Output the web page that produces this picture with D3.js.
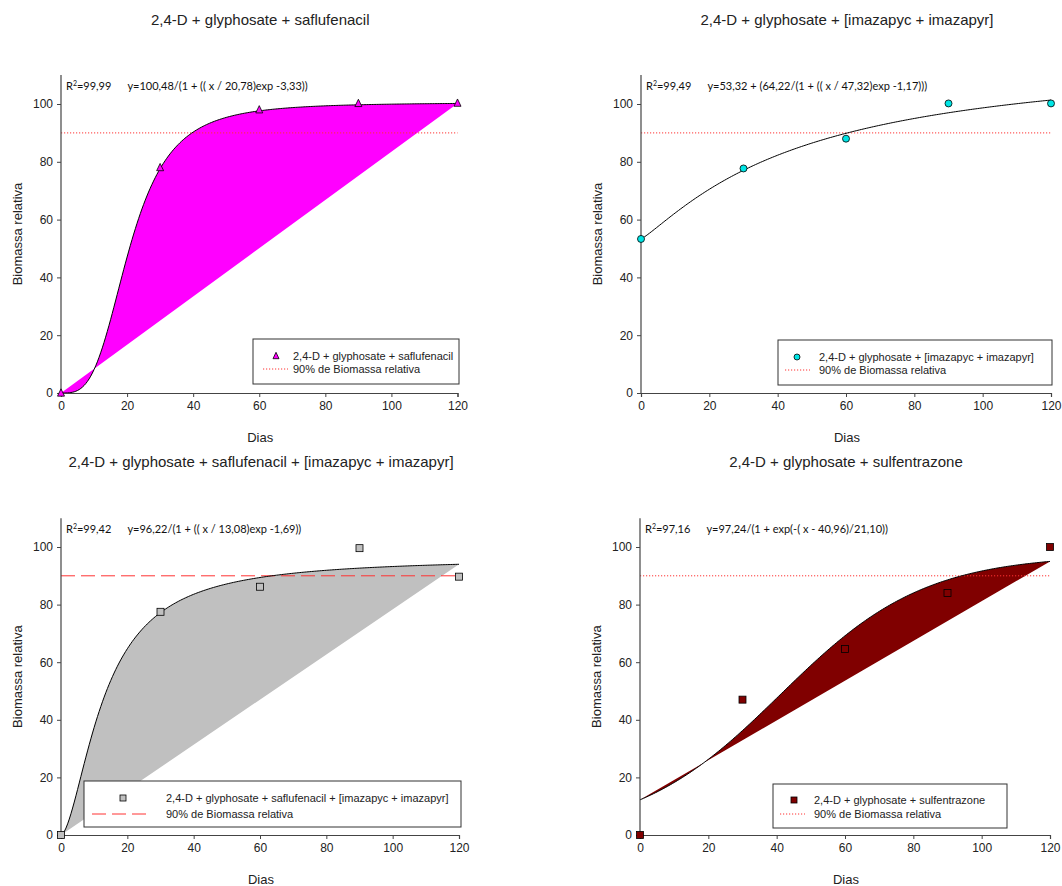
<!DOCTYPE html>
<html>
<head>
<meta charset="utf-8">
<script src="https://cdn.jsdelivr.net/npm/d3@7"></script>
<style>
  body { margin: 0; background: #fff; }
  svg { display: block; }
  text { font-family: "Liberation Sans", Arial, sans-serif; fill: #222; }
  .eq { font-family: Lato, "Open Sans", sans-serif; font-size: 11px; fill: #111; }
</style>
</head>
<body>
<svg id="chart" width="1062" height="886"></svg>
<script>
// Sampling days (x) shared by every treatment
const days = [0, 30, 60, 90, 120];
const xTicks = [0, 20, 40, 60, 80, 100, 120];
const yTicks = [0, 20, 40, 60, 80, 100];

// Observed relative biomass (%) per treatment
const saflufenacilObs = [0, 78, 98, 100.2, 100.3];
const imazapycObs     = [53.3, 77.7, 88, 100.2, 100.2];
const safImazObs      = [0, 77.5, 86.2, 99.6, 89.7];
const sulfentrazoneObs = [0, 47, 64.6, 84, 100];

// Fitted model coefficients
const saflufenacilFit = [100.48, 20.78, -3.33];          // a/(1+(x/b)^c)
const imazapycFit     = [53.32, 64.22, 47.32, -1.17];    // y0 + a/(1+(x/b)^c)
const safImazFit      = [96.22, 13.08, -1.69];           // a/(1+(x/b)^c)
const sulfentrazoneFit = [97.24, 40.96, 21.10];          // a/(1+exp(-(x-x0)/b))

const titles = [
  "2,4-D + glyphosate + saflufenacil",
  "2,4-D + glyphosate + [imazapyc + imazapyr]",
  "2,4-D + glyphosate + saflufenacil + [imazapyc + imazapyr]",
  "2,4-D + glyphosate + sulfentrazone"
];
const equations = [
  ["99,99", "y=100,48/(1 + (( x / 20,78)exp -3,33))"],
  ["99,49", "y=53,32 + (64,22/(1 + (( x / 47,32)exp -1,17)))"],
  ["99,42", "y=96,22/(1 + (( x / 13,08)exp -1,69))"],
  ["97,16", "y=97,24/(1 + exp(-( x - 40,96)/21,10))"]
];
const referenceLevel = 90;

const models = [
  x => saflufenacilFit[0] / (1 + Math.pow(x / saflufenacilFit[1], saflufenacilFit[2])),
  x => imazapycFit[0] + imazapycFit[1] / (1 + Math.pow(x / imazapycFit[2], imazapycFit[3])),
  x => safImazFit[0] / (1 + Math.pow(x / safImazFit[1], safImazFit[2])),
  x => sulfentrazoneFit[0] / (1 + Math.exp(-(x - sulfentrazoneFit[1]) / sulfentrazoneFit[2]))
];

const panels = [
  { obs: saflufenacilObs, x0: 61, x1: 457.5, yb: 393, y100: 104, fill: "#ff00ff", marker: "triangle", mfill: "#ff00ff",
    refDash: "1.2,1.8", refColor: "#ff3333",
    legend: { x: 253, y: 339, w: 206, h: 45, mx: 276, tx: 293, l1: 356, l2: 369, lx0: 263, lx1: 288 } },
  { obs: imazapycObs, x0: 641, x1: 1051, yb: 393, y100: 104, fill: null, marker: "circle", mfill: "#00e5e5",
    refDash: "1.2,1.8", refColor: "#ff3333",
    legend: { x: 778, y: 340, w: 274, h: 45, mx: 797, tx: 819, l1: 357, l2: 370, lx0: 785, lx1: 810 } },
  { obs: safImazObs, x0: 61, x1: 459, yb: 835, y100: 547, fill: "#c0c0c0", marker: "square", mfill: "#c0c0c0",
    refDash: "14,6", refColor: "#ff3333",
    legend: { x: 84, y: 781, w: 377, h: 46, mx: 123, tx: 166, l1: 798, l2: 814, lx0: 92, lx1: 147 } },
  { obs: sulfentrazoneObs, x0: 640, x1: 1050, yb: 835, y100: 547, fill: "#800000", marker: "square", mfill: "#800000",
    refDash: "1.2,1.8", refColor: "#ff3333",
    legend: { x: 773, y: 784, w: 234, h: 44, mx: 794, tx: 814, l1: 800, l2: 814, lx0: 780, lx1: 805 } }
];

const svg = d3.select("#chart");
const axisColor = "#444";

panels.forEach((p, i) => {
  const x = d3.scaleLinear().domain([0, 120]).range([p.x0, p.x1]);
  const unit = (p.yb - p.y100) / 100;
  const y = d3.scaleLinear().domain([0, 110]).range([p.yb, p.yb - 110 * unit]);
  const g = svg.append("g");
  const f = models[i];

  // Fitted curve samples
  const curvePts = d3.range(0, 120.001, 0.5).map(d => [d, f(d)]);
  const line = d3.line().x(d => x(d[0])).y(d => y(d[1]));

  // Shaded region between the fitted curve and the chord joining its ends
  if (p.fill) {
    g.append("path").attr("d", line(curvePts) + "Z")
      .attr("fill", p.fill).attr("stroke", "none");
  }

  // 90% reference line
  g.append("line")
    .attr("x1", x(0)).attr("x2", x(120))
    .attr("y1", y(referenceLevel)).attr("y2", y(referenceLevel))
    .attr("stroke", p.refColor).attr("stroke-width", 1)
    .attr("stroke-dasharray", p.refDash);

  g.append("path").attr("d", line(curvePts))
    .attr("fill", "none").attr("stroke", "#000").attr("stroke-width", 1);

  // Axes
  const xAxis = d3.axisBottom(x).tickValues(xTicks).tickSize(4).tickSizeOuter(4).tickPadding(4);
  const yAxis = d3.axisLeft(y).tickValues(yTicks).tickSize(4).tickSizeOuter(0).tickPadding(4);
  const gx = g.append("g").attr("transform", `translate(0,${p.yb})`).call(xAxis);
  const gy = g.append("g").attr("transform", `translate(${p.x0},0)`).call(yAxis);
  [gx, gy].forEach(a => {
    a.select(".domain").attr("stroke", axisColor).attr("stroke-width", 1.2);
    a.selectAll(".tick line").attr("stroke", axisColor);
    a.selectAll(".tick text").style("font-family", '"Liberation Sans", Arial, sans-serif')
      .style("font-size", "12px").attr("fill", "#1a1a1a");
  });
  gy.select(".domain").attr("d", `M0,${y(110)}V${p.yb}`);

  // Markers
  const drawMarker = (sel, cx, cy, size) => {
    if (p.marker === "circle") {
      sel.append("circle").attr("cx", cx).attr("cy", cy).attr("r", size / 2)
        .attr("fill", p.mfill).attr("stroke", "#000").attr("stroke-width", 0.8);
    } else if (p.marker === "square") {
      sel.append("rect").attr("x", cx - size / 2).attr("y", cy - size / 2)
        .attr("width", size).attr("height", size)
        .attr("fill", p.mfill).attr("stroke", "#000").attr("stroke-width", 0.8);
    } else {
      const h = size * 0.9;
      sel.append("path")
        .attr("d", `M${cx},${cy - h / 2 - 1}L${cx + size / 2},${cy + h / 2}L${cx - size / 2},${cy + h / 2}Z`)
        .attr("fill", p.mfill).attr("stroke", "#000").attr("stroke-width", 0.8);
    }
  };
  days.forEach((d, k) => drawMarker(g, x(d), y(p.obs[k]), 7));

  // Titles and axis labels
  const cx = (p.x0 + p.x1) / 2;
  g.append("text").attr("x", cx + 1).attr("y", p.yb - 368).attr("text-anchor", "middle")
    .style("font-size", "15px").text(titles[i]);
  g.append("text").attr("x", cx + 1).attr("y", p.yb + 49).attr("text-anchor", "middle")
    .style("font-size", "13px").text("Dias");
  g.append("text")
    .attr("transform", `translate(${p.x0 - 39},${(y(110) + p.yb) / 2}) rotate(-90)`)
    .attr("text-anchor", "middle").style("font-size", "13px").text("Biomassa relativa");

  // Fit annotation
  const eq = g.append("text").attr("class", "eq").attr("x", p.x0 + 5).attr("y", y(110) + 15);
  eq.append("tspan").text("R");
  eq.append("tspan").attr("dy", -4).style("font-size", "7px").text("2");
  eq.append("tspan").attr("dy", 4).text("=" + equations[i][0]);
  eq.append("tspan").attr("dx", 16).text(equations[i][1]);

  // Legend
  const L = p.legend;
  const lg = g.append("g");
  lg.append("rect").attr("x", L.x).attr("y", L.y).attr("width", L.w).attr("height", L.h)
    .attr("fill", "#fff").attr("stroke", "#333").attr("stroke-width", 1);
  drawMarker(lg, L.mx, L.l1, 6);
  lg.append("line").attr("x1", L.lx0).attr("x2", L.lx1).attr("y1", L.l2).attr("y2", L.l2)
    .attr("stroke", p.refColor).attr("stroke-width", 1).attr("stroke-dasharray", p.refDash);
  lg.append("text").attr("x", L.tx).attr("y", L.l1 + 4).style("font-size", "11px").text(titles[i]);
  lg.append("text").attr("x", L.tx).attr("y", L.l2 + 4).style("font-size", "11px").text("90% de Biomassa relativa");
});
</script>
</body>
</html>
